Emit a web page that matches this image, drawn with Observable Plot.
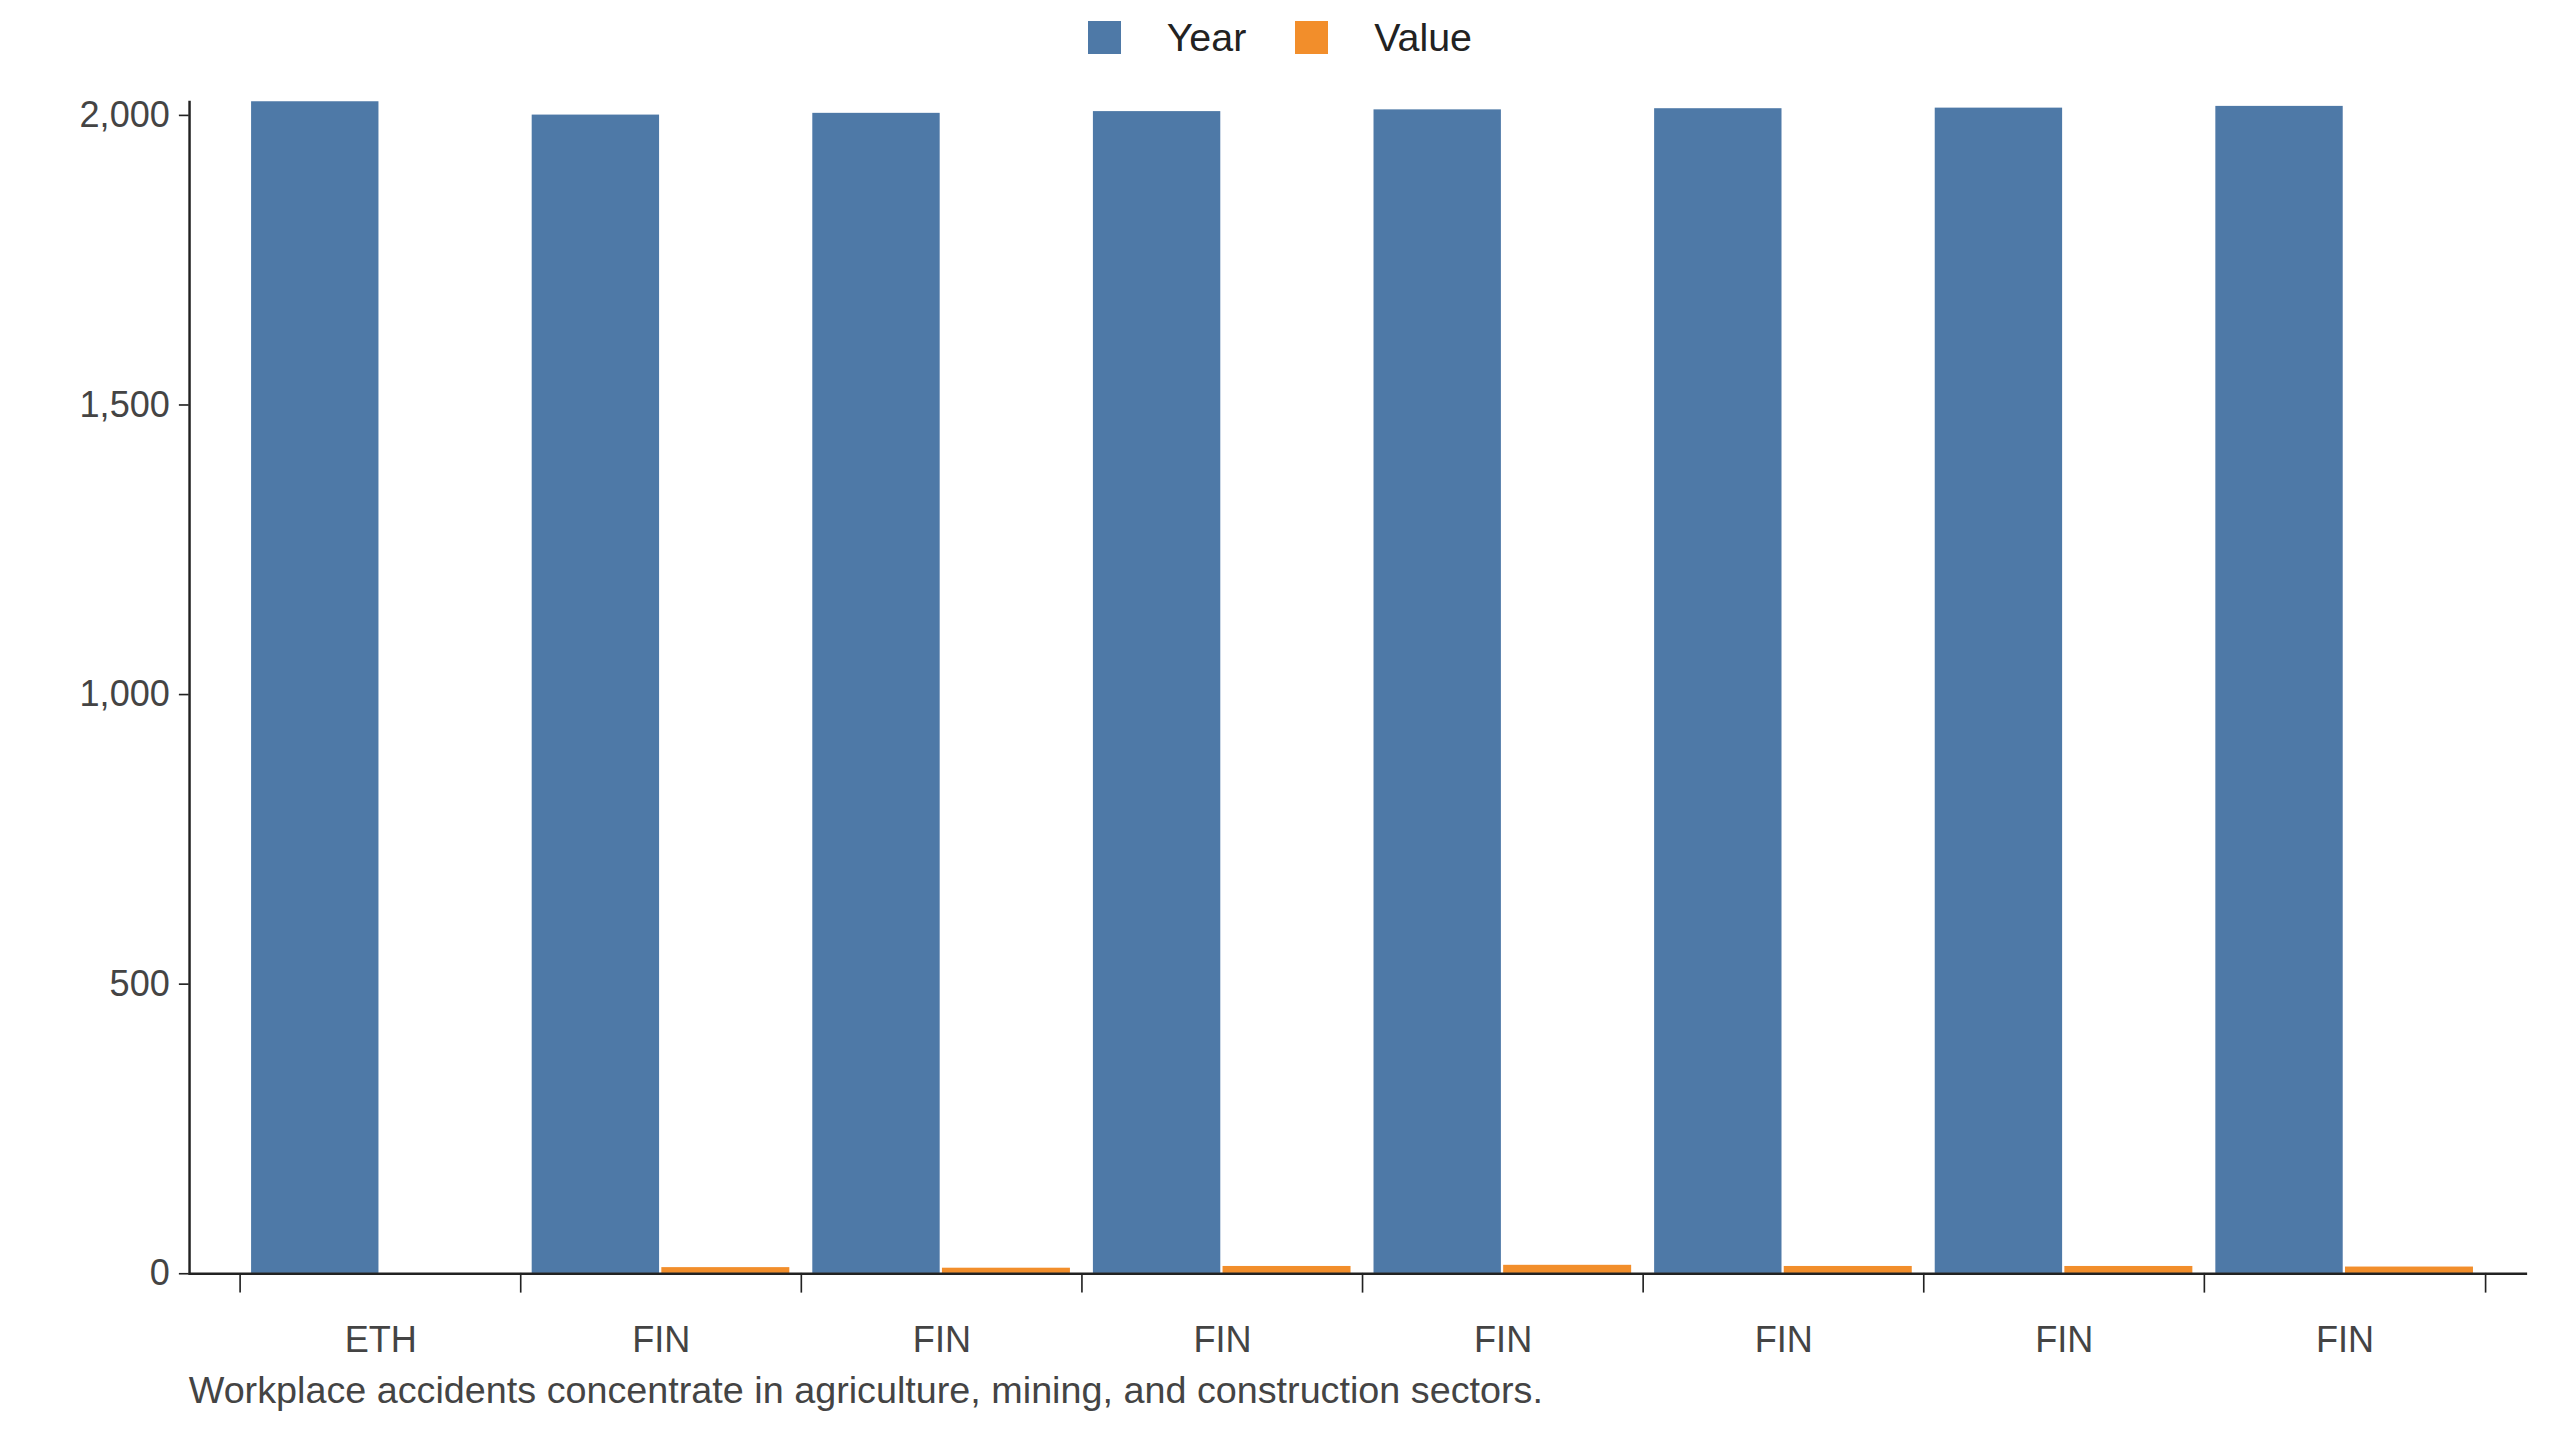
<!DOCTYPE html>
<html><head><meta charset="utf-8">
<script src="https://cdn.jsdelivr.net/npm/d3@7"></script>
<script src="https://cdn.jsdelivr.net/npm/@observablehq/plot@0.6"></script>
<style>
body{margin:0;background:#fff;font-family:"Liberation Sans",Arial,sans-serif;zoom:1.641;width:1560px}
#legend{display:flex;justify-content:center;gap:30px;height:46px;align-items:center;font-size:24px;color:#222}
#legend span{display:inline-flex;align-items:center;gap:28px}
#legend i{display:inline-block;width:20px;height:20px}
#cap{margin-left:115px;font-size:23px;color:#444;margin-top:-2px}
</style></head><body>
<div id="legend"><span><i style="background:#4e79a7"></i>Year</span><span><i style="background:#f28e2b"></i>Value</span></div>
<div id="chart"></div>
<div id="cap">Workplace accidents concentrate in agriculture, mining, and construction sectors.</div>
<script>
const categories = ["ETH","FIN","FIN","FIN","FIN","FIN","FIN","FIN"];
const years = [2023,2000,2003,2006,2009,2011,2012,2015];
const values = [0,10,9,12,14,12,12,11];
const yTicks = [0,500,1000,1500,2000];
const data = categories.map((c,i)=>({key:String(i),cat:c,year:years[i],value:values[i]}));
const keys = data.map(d=>d.key);
const bw = (1515-144)/keys.length;
const plot = Plot.plot({
  width:1560,height:790,marginLeft:115,marginRight:20,marginTop:16,marginBottom:60,
  style:{fontSize:"22px",fontFamily:"Liberation Sans, Arial, sans-serif",color:"#444"},
  x:{domain:keys,range:[144,1515],padding:0},
  y:{domain:[0,d3.max(years)]},
  marks:[
    Plot.barY(data,{x:"key",y:"year",fill:"#4e79a7",insetLeft:7,insetRight:bw-85}),
    Plot.barY(data,{x:"key",y:"value",fill:"#f28e2b",insetLeft:86,insetRight:7}),
    Plot.axisY({ticks:yTicks,tickFormat:d3.format(","),tickSize:6,stroke:"#222",label:null,tickPadding:6}),
    Plot.frame({anchor:"left",stroke:"#222",strokeWidth:1.5}),
    Plot.ruleY([0],{stroke:"#222",strokeWidth:1.5}),
    Plot.axisX({ticks:keys,tickSize:12,tickFormat:()=>"",dx:-bw/2,stroke:"#222",label:null}),
    Plot.axisX({ticks:[keys[keys.length-1]],tickSize:12,tickFormat:()=>"",dx:bw/2,stroke:"#222",label:null}),
    Plot.axisX({ticks:keys,tickSize:0,tickPadding:32,tickFormat:k=>categories[+k],label:null,fill:"#444"})
  ]
});
document.getElementById("chart").append(plot);
</script></body></html>
